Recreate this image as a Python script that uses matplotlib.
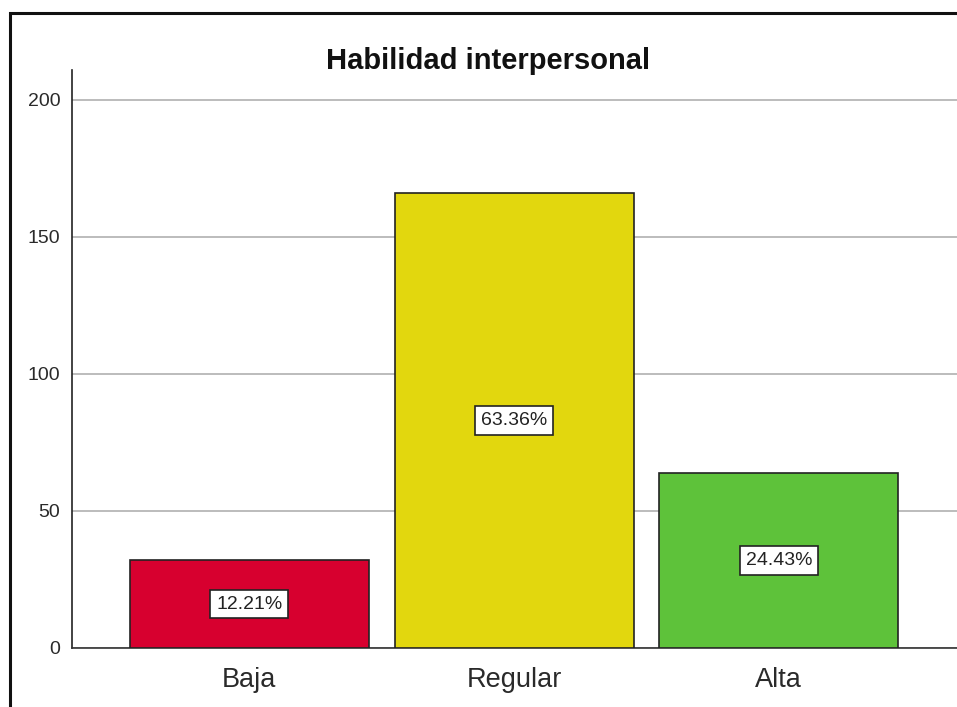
import numpy as np
import matplotlib
matplotlib.use("Agg")
import matplotlib.pyplot as plt
from matplotlib.patches import Rectangle

categories = ["Baja", "Regular", "Alta"]
counts = [32, 166, 64]
percent_labels = ["12.21%", "63.36%", "24.43%"]
bar_colors = ["#D7002F", "#E2D70E", "#5EC23A"]
y_ticks = [0, 50, 100, 150, 200]

plt.rcParams["font.family"] = ["Liberation Sans", "DejaVu Sans"]

W, H = 957, 707
fig = plt.figure(figsize=(W / 100, H / 100), dpi=100)

# outer frame (right and bottom edges fall outside the picture)
fig.patches.append(Rectangle((10 / W, -0.1), 1.2, 1 - 13 / H + 0.1,
                             transform=fig.transFigure, fill=False,
                             edgecolor="#111111", linewidth=2.2, zorder=10))

ax = fig.add_axes([72 / W, (H - 648) / H, (W - 72) / W + 0.01, (648 - 70) / H])

x = np.arange(len(categories))
ax.bar(x, counts, width=0.903, color=bar_colors, edgecolor="#222222",
       linewidth=1.2, zorder=3)

for xi, c, lab in zip(x, counts, percent_labels):
    ax.text(xi, c / 2, lab, ha="center", va="center", fontsize=14,
            color="#222222", zorder=5,
            bbox=dict(boxstyle="square,pad=0.3", facecolor="white",
                      edgecolor="#222222", linewidth=1.2))

ax.set_xlim(-0.670, 2.709)
ax.set_ylim(0, 210.9)
ax.set_yticks(y_ticks)
ax.set_xticks(x)
ax.set_xticklabels(categories, fontsize=19.5, color="#2a2a2a")
ax.tick_params(axis="y", length=0, pad=8.5, labelsize=14, labelcolor="#2a2a2a")
ax.tick_params(axis="x", length=0, pad=13.5)
ax.yaxis.grid(True, color="#B0B0B0", linewidth=1.2, zorder=0)
ax.set_axisbelow(True)

for s in ["top", "right"]:
    ax.spines[s].set_visible(False)
ax.spines["left"].set_color("#222222")
ax.spines["bottom"].set_color("#333333")
ax.spines["left"].set_linewidth(1.2)
ax.spines["bottom"].set_linewidth(1.2)

fig.text(488 / W, 1 - 61 / H, "Habilidad interpersonal", ha="center",
         va="center", fontsize=21, fontweight="bold", color="#111111")

fig.savefig("out.png", dpi=100)
